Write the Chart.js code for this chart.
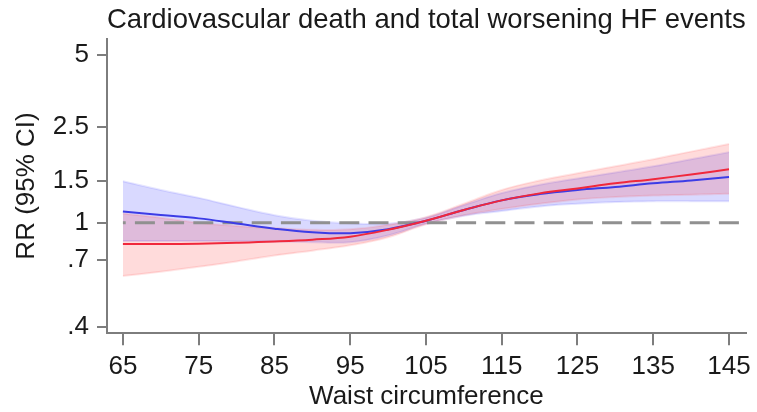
<!DOCTYPE html>
<html>
<head>
<meta charset="utf-8">
<script src="https://cdn.jsdelivr.net/npm/chart.js@4"></script>
<style>
  body { margin: 0; background: #fff; }
  canvas { display: block; }
</style>
</head>
<body>
<canvas id="rrChart" width="757" height="412"></canvas>
<script>
// Waist circumference (cm) and relative risk
const waist = [65, 70, 75, 80, 85, 90, 95, 100, 105, 110, 115, 120, 125, 130, 135, 140, 145];

// blue curve with its 95% CI
const blueRR    = [1.115, 1.077, 1.043, 0.993, 0.945, 0.913, 0.905, 0.94, 1.02, 1.13, 1.24, 1.317, 1.37, 1.41, 1.46, 1.50, 1.55];
const blueUpper = [1.49, 1.37, 1.27, 1.165, 1.075, 1.02, 0.995, 0.99, 1.05, 1.185, 1.33, 1.44, 1.53, 1.62, 1.72, 1.84, 1.97];
const blueLower = [0.84, 0.84, 0.84, 0.838, 0.835, 0.83, 0.83, 0.885, 0.99, 1.07, 1.12, 1.17, 1.20, 1.22, 1.23, 1.23, 1.23];

// red curve with its 95% CI
const redRR    = [0.815, 0.815, 0.818, 0.825, 0.835, 0.85, 0.875, 0.935, 1.02, 1.13, 1.24, 1.326, 1.39, 1.46, 1.52, 1.59, 1.67];
const redUpper = [1.094, 1.05, 1.0, 0.97, 0.95, 0.935, 0.94, 0.98, 1.055, 1.2, 1.37, 1.50, 1.61, 1.72, 1.84, 1.98, 2.13];
const redLower = [0.60, 0.625, 0.655, 0.69, 0.73, 0.765, 0.805, 0.87, 0.985, 1.075, 1.14, 1.20, 1.25, 1.28, 1.30, 1.31, 1.32];

// axis ticks
const xTicks = [65, 75, 85, 95, 105, 115, 125, 135, 145];
const yTicks = [0.368, 0.7, 1, 1.5, 2.5, 5];
const yTickLabels = ['.4', '.7', '1', '1.5', '2.5', '5'];
const refRR = 1;

const xMin = 62.9, xMax = 147.2;
const yMin = 0.346, yMax = 5.86;

const pts = arr => waist.map((w, i) => ({ x: w, y: arr[i] }));
const font = 'Liberation Sans, Arial, sans-serif';
const axisGray = '#7d7d7d';
const textCol = '#1a1a1a';

const ctx = document.getElementById('rrChart').getContext('2d');
const chart = new Chart(ctx, {
    type: 'line',
    data: {
        datasets: [
            // 0 red line (drawn on top)
            { data: pts(redRR), borderColor: '#f0283c', borderWidth: 2, pointRadius: 0, tension: 0.4, fill: false },
            // 1 blue line
            { data: pts(blueRR), borderColor: '#3c3ce6', borderWidth: 2, pointRadius: 0, tension: 0.4, fill: false },
            // 2 reference line at RR = 1
            { data: [{ x: waist[0], y: refRR }, { x: xMax, y: refRR }], borderColor: '#909090', borderWidth: 3,
              borderDash: [20, 9.2], borderDashOffset: 17.2, pointRadius: 0, fill: false },
            // 3/4 red band
            { data: pts(redUpper), borderColor: 'rgba(255,60,60,0.13)', borderWidth: 2, pointRadius: 0, tension: 0.4,
              fill: { target: 4 }, backgroundColor: 'rgba(255,0,0,0.14)' },
            { data: pts(redLower), borderColor: 'rgba(255,60,60,0.13)', borderWidth: 2, pointRadius: 0, tension: 0.4, fill: false },
            // 5/6 blue band
            { data: pts(blueUpper), borderColor: 'rgba(60,60,255,0.13)', borderWidth: 2, pointRadius: 0, tension: 0.4,
              fill: { target: 6 }, backgroundColor: 'rgba(0,0,255,0.15)' },
            { data: pts(blueLower), borderColor: 'rgba(60,60,255,0.13)', borderWidth: 2, pointRadius: 0, tension: 0.4, fill: false }
        ]
    },
    options: {
        responsive: false,
        animation: false,
        layout: { padding: { left: 0, right: 8, top: 3, bottom: 0 } },
        plugins: {
            legend: { display: false },
            tooltip: { enabled: false },
            title: {
                display: true,
                text: 'Cardiovascular death and total worsening HF events',
                fullSize: false,
                color: textCol,
                font: { family: font, size: 28, weight: 'normal' },
                padding: { top: 0, bottom: 2 }
            }
        },
        scales: {
            x: {
                type: 'linear',
                min: xMin,
                max: xMax,
                afterBuildTicks: s => { s.ticks = xTicks.map(v => ({ value: v })); s.min = xMin; s.max = xMax; },
                afterFit: s => { s.height = 78.7; },
                grid: { drawOnChartArea: false, drawTicks: true, tickLength: 12, color: axisGray, lineWidth: 2 },
                border: { display: true, color: axisGray, width: 2 },
                ticks: { color: textCol, padding: 6, maxRotation: 0, autoSkip: false,
                         font: { family: font, size: 26 } },
                title: { display: true, text: 'Waist circumference', color: textCol,
                         font: { family: font, size: 26 }, padding: { top: 0, bottom: 0 } }
            },
            y: {
                type: 'logarithmic',
                min: yMin,
                max: yMax,
                afterBuildTicks: s => { s.ticks = yTicks.map(v => ({ value: v })); s.min = yMin; s.max = yMax; },
                afterFit: s => { s.width = 107; },
                grid: { drawOnChartArea: false, drawTicks: true, tickLength: 10, color: axisGray, lineWidth: 2 },
                border: { display: true, color: axisGray, width: 2 },
                ticks: { color: textCol, padding: 8, autoSkip: false,
                         font: { family: font, size: 26 },
                         callback: (v, i) => yTickLabels[i] },
                title: { display: true, text: 'RR (95% CI)', color: textCol,
                         font: { family: font, size: 26 }, padding: { top: 11, bottom: 0 } }
            }
        }
    }
});
</script>
</body>
</html>
